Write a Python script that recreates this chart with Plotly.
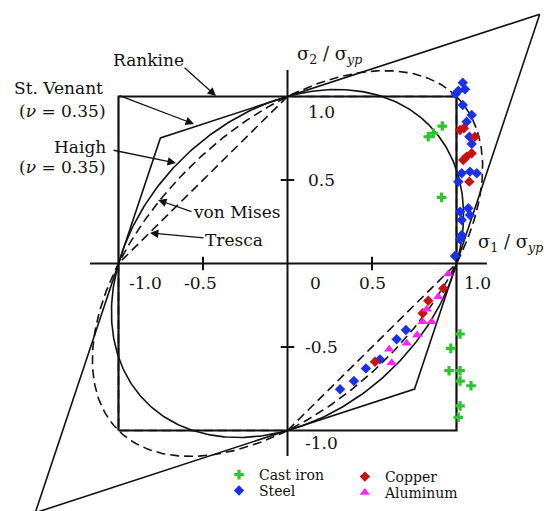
import numpy as np
import plotly.graph_objects as go

# ---------------- data ----------------
iron_s1 = [0.833, 0.863, 0.916, 0.912, 1.021, 0.966, 0.956, 1.021, 1.021, 1.086, 1.021, 1.011]
iron_s2 = [0.759, 0.780, 0.823, 0.396, -0.422, -0.508, -0.642, -0.642, -0.704, -0.732, -0.853, -0.921]

steel_s1 = [1.037, 1.050, 1.011, 0.995, 1.037, 1.090, 1.060, 1.076, 1.090, 1.031, 1.080, 1.120, 1.011,
            1.021, 1.070, 1.080, 1.031, 1.031, 1.021, 0.991,
            0.311, 0.393, 0.464, 0.547, 0.646, 0.701]
steel_s2 = [1.083, 1.043, 1.035, 1.015, 0.949, 0.889, 0.849, 0.759, 0.716, 0.540, 0.550, 0.540, 0.490,
            0.310, 0.331, 0.290, 0.260, 0.171, 0.145, 0.045,
            -0.753, -0.704, -0.628, -0.574, -0.454, -0.398]

copper_s1 = [1.021, 1.044, 1.109, 1.060, 1.090, 1.040, 1.076, 0.518, 0.800, 0.833, 0.922]
copper_s2 = [0.799, 0.810, 0.759, 0.640, 0.660, 0.620, 0.490, -0.588, -0.298, -0.223, -0.149]

alum_s1 = [0.602, 0.617, 0.705, 0.768, 0.800, 0.853, 0.824, 0.892, 0.951]
alum_s2 = [-0.514, -0.594, -0.478, -0.428, -0.349, -0.349, -0.274, -0.199, -0.063]

# theory parameters
yield_stress = 1.0
nu_st_venant = 0.33
nu_haigh = 0.28
c_von_mises = 0.5

x_ticks = [-1.0, -0.5, 0.0, 0.5, 1.0]
x_tick_text = ["-1.0", "-0.5", "0", "0.5", "1.0"]
y_ticks = [1.0, 0.5, -0.5, -1.0]
y_tick_text = ["1.0", "0.5", "-0.5", "-1.0"]


def ellipse(c, n=361):
    """s1^2 + s2^2 - 2 c s1 s2 = yield^2"""
    t = np.linspace(0, 2 * np.pi, n)
    u = yield_stress * np.cos(t) / np.sqrt(1 - c)
    v = yield_stress * np.sin(t) / np.sqrt(1 + c)
    return (u + v) / np.sqrt(2), (u - v) / np.sqrt(2)


Y = yield_stress
rank_x = [-Y, Y, Y, -Y, -Y]
rank_y = [-Y, -Y, Y, Y, -Y]
tres_x = [Y, Y, 0, -Y, -Y, 0, Y]
tres_y = [0, Y, Y, 0, -Y, -Y, 0]
a = Y / (1 - nu_st_venant)
b = Y / (1 + nu_st_venant)
sv_x = [a, -b, -a, b, a]
sv_y = [a, b, -a, -b, a]
vm_x, vm_y = ellipse(c_von_mises)
hg_x, hg_y = ellipse(nu_haigh)

LINE = "#111111"
fig = go.Figure()

fig.add_trace(go.Scatter(x=tres_x, y=tres_y, mode="lines", showlegend=False,
                         line=dict(color=LINE, width=1.6, dash="9px,5px"), hoverinfo="skip"))
fig.add_trace(go.Scatter(x=vm_x, y=vm_y, mode="lines", showlegend=False,
                         line=dict(color=LINE, width=1.6, dash="9px,5px"), hoverinfo="skip"))
fig.add_trace(go.Scatter(x=hg_x, y=hg_y, mode="lines", showlegend=False,
                         line=dict(color=LINE, width=1.6), hoverinfo="skip"))
fig.add_trace(go.Scatter(x=sv_x, y=sv_y, mode="lines", showlegend=False,
                         line=dict(color=LINE, width=1.6), hoverinfo="skip"))
fig.add_trace(go.Scatter(x=rank_x, y=rank_y, mode="lines", showlegend=False,
                         line=dict(color=LINE, width=2.2), hoverinfo="skip"))

fig.add_trace(go.Scatter(x=iron_s1, y=iron_s2, mode="markers", name="Cast iron", legend="legend",
                         marker=dict(symbol="cross", size=8, color="#2ec42e", line=dict(width=0))))
fig.add_trace(go.Scatter(x=steel_s1, y=steel_s2, mode="markers", name="Steel", legend="legend2",
                         marker=dict(symbol="diamond", size=8, color="#1830f0", line=dict(width=0))))
fig.add_trace(go.Scatter(x=copper_s1, y=copper_s2, mode="markers", name="Copper", legend="legend3",
                         marker=dict(symbol="diamond", size=8, color="#cc1010", line=dict(width=0))))
fig.add_trace(go.Scatter(x=alum_s1, y=alum_s2, mode="markers", name="Aluminum", legend="legend4",
                         marker=dict(symbol="triangle-up", size=9, color="#ff20ff", line=dict(width=0))))

shapes = [
    dict(type="line", x0=-1.169, x1=1.180, y0=0, y1=0, line=dict(color=LINE, width=2)),
    dict(type="line", x0=0, x1=0, y0=-1.153, y1=1.159, line=dict(color=LINE, width=2)),
]
for t in x_ticks:
    if abs(t) == 0.5:
        shapes.append(dict(type="line", x0=t, x1=t, y0=-0.04, y1=0.04, line=dict(color=LINE, width=2)))
for t in y_ticks:
    if abs(t) == 0.5:
        shapes.append(dict(type="line", x0=-0.04, x1=0.04, y0=t, y1=t, line=dict(color=LINE, width=2)))

TXT = dict(family="DejaVu Serif", size=17, color="#111111")
ann = []
x_shift = [27, -3, 28, 0, 21]
for t, s, sh in zip(x_ticks, x_tick_text, x_shift):
    ann.append(dict(x=t, y=0, text=s, showarrow=False, xshift=sh, yshift=-19, font=TXT,
                    xanchor="center", yanchor="middle"))
y_shift = [-15, 0, 0, -12]
for t, s, sh in zip(y_ticks, y_tick_text, y_shift):
    ann.append(dict(x=0, y=t, text=s, showarrow=False, xshift=34, yshift=sh, font=TXT,
                    xanchor="center", yanchor="middle"))

labels = [
    ("Rankine", -0.825, 1.219),
    ("St. Venant", -1.358, 1.051),
    ("(<i>ν</i> = 0.35)", -1.334, 0.913),
    ("Haigh", -1.228, 0.698),
    ("(<i>ν</i> = 0.35)", -1.334, 0.578),
    ("von Mises", -0.300, 0.308),
    ("Tresca", -0.316, 0.141),
]
for s, x, y in labels:
    ann.append(dict(x=x, y=y, text=s, showarrow=False, font=TXT, xanchor="center", yanchor="middle"))

arrows = [
    ((-0.618, 1.180), (-0.423, 1.003)),
    ((-1.003, 1.009), (-0.553, 0.835)),
    ((-1.038, 0.680), (-0.660, 0.602)),
    ((-0.559, 0.308), (-0.766, 0.380)),
    ((-0.488, 0.153), (-0.814, 0.183)),
]
for (tx, ty), (hx, hy) in arrows:
    ann.append(dict(x=hx, y=hy, ax=tx, ay=ty, axref="x", ayref="y", xref="x", yref="y", text="",
                    showarrow=True, arrowhead=2, arrowsize=1.3, arrowwidth=1.3, arrowcolor=LINE))

SIG = dict(family="DejaVu Serif", size=18, color="#111111")
ann.append(dict(x=0.251, y=1.249, text="σ<sub>2</sub> / σ<sub><i>yp</i></sub>", showarrow=False,
                font=SIG, xanchor="center", yanchor="middle"))
ann.append(dict(x=1.317, y=0.123, text="σ<sub>1</sub> / σ<sub><i>yp</i></sub>", showarrow=False,
                font=SIG, xanchor="center", yanchor="middle"))

LEG_FONT = dict(family="DejaVu Serif", size=14, color="#111111")


def leg(x, y):
    return dict(x=x, y=y, xanchor="left", yanchor="top", orientation="v", font=LEG_FONT,
                itemwidth=30, bgcolor="rgba(0,0,0,0)", borderwidth=0)


fig.update_layout(
    width=544, height=511,
    margin=dict(l=0, r=0, t=0, b=0),
    paper_bgcolor="white", plot_bgcolor="white",
    xaxis=dict(range=[-1.7012, 1.5178], visible=False, fixedrange=True),
    yaxis=dict(range=[-1.4820, 1.5778], visible=False, fixedrange=True),
    shapes=shapes,
    annotations=ann,
    legend=leg(0.4026, 0.1018),
    legend2=leg(0.4026, 0.0705),
    legend3=leg(0.634, 0.0978),
    legend4=leg(0.634, 0.0665),
)

fig.write_html("out.html", config={"displayModeBar": False},
               post_script="document.body.style.margin='0px';")
